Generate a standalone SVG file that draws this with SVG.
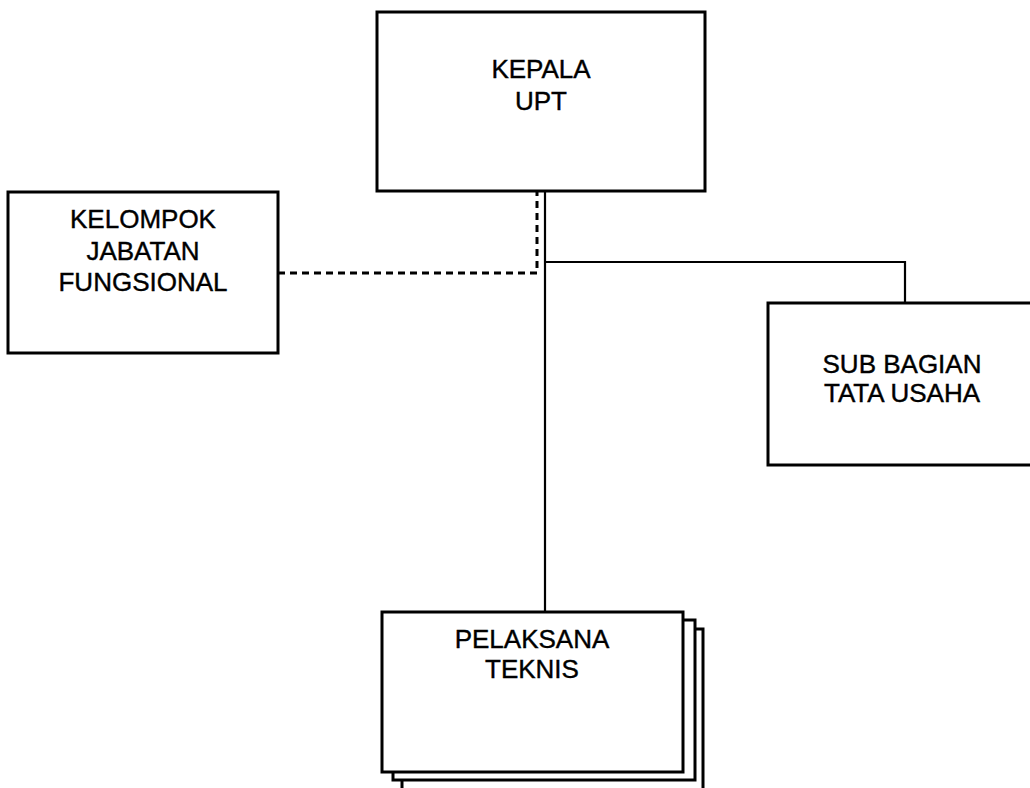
<svg xmlns="http://www.w3.org/2000/svg" width="1030" height="788" viewBox="0 0 1030 788">
<style>
.box{fill:#fff;stroke:#000;stroke-width:3}
.t{font-family:"Liberation Sans",Arial,sans-serif;font-size:26px;fill:#000;stroke:#000;stroke-width:0.4;text-anchor:middle}
.ln{fill:none;stroke:#000;stroke-width:2.2}
.dash{fill:none;stroke:#000;stroke-width:3;stroke-dasharray:7,5}
</style>
<rect width="1030" height="788" fill="#fff"/>
<g id="connectors">
<path class="ln" d="M545,192 V612"/>
<path class="ln" d="M545,262 H905 V303"/>
<path class="dash" d="M278,273 H537 V192"/>
</g>
<g id="kepala">
<rect class="box" x="377" y="12" width="328" height="179"/>
<text class="t" x="541" y="78">KEPALA</text>
<text class="t" x="541" y="110">UPT</text>
</g>
<g id="kelompok">
<rect class="box" x="8" y="192" width="270" height="161"/>
<text class="t" x="143" y="228">KELOMPOK</text>
<text class="t" x="143" y="260">JABATAN</text>
<text class="t" x="143" y="291">FUNGSIONAL</text>
</g>
<g id="subbagian">
<rect class="box" x="768" y="303" width="272" height="162"/>
<text class="t" x="902" y="373">SUB BAGIAN</text>
<text class="t" x="902" y="402">TATA USAHA</text>
</g>
<g id="pelaksana">
<rect class="box" x="402" y="629" width="301" height="170"/>
<rect class="box" x="393" y="620" width="302" height="160"/>
<rect class="box" x="382" y="612" width="301" height="160"/>
<text class="t" x="532" y="648">PELAKSANA</text>
<text class="t" x="532" y="678">TEKNIS</text>
</g>
</svg>
